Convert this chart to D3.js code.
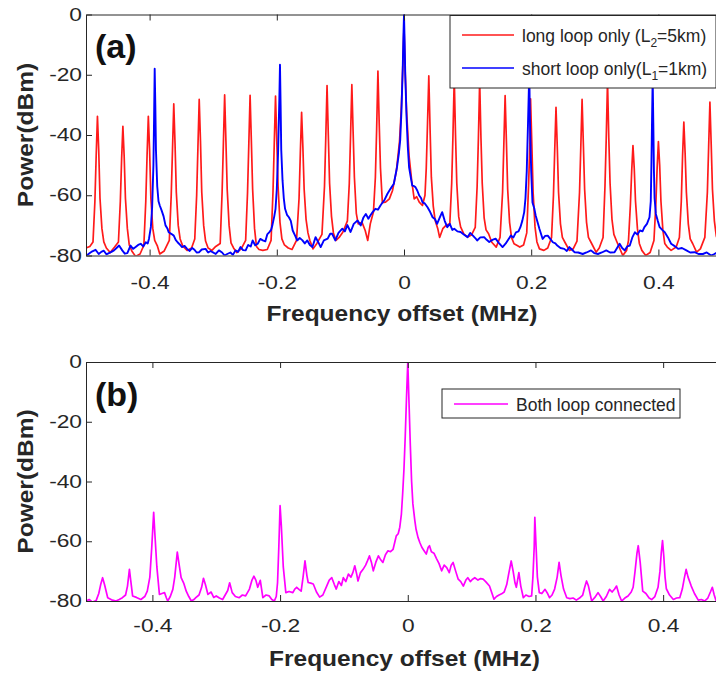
<!DOCTYPE html>
<html>
<head>
<meta charset="utf-8">
<script src="https://cdn.jsdelivr.net/npm/d3@7"></script>
<style>
  body { margin: 0; background: #fff; }
  svg text { font-family: "Liberation Sans", Arial, sans-serif; fill: #262626; }
</style>
</head>
<body>
<div id="chart"></div>
<script>
// tick values shared by both panels
var freqTicks = [-0.4, -0.2, 0, 0.2, 0.4];
var powerTicks = [0, -20, -40, -60, -80];

// (a) long loop only, L2 = 5km : [frequency offset MHz, power dBm]
var longLoop = [
  [-0.500, -77.5], [-0.494, -77.0], [-0.489, -75.5],
  [-0.486, -62], [-0.484, -47], [-0.482, -33.8], [-0.480, -45], [-0.478, -61], [-0.475, -71], [-0.472, -75.5],
  [-0.468, -77.5], [-0.462, -79.0], [-0.455, -77.2], [-0.449, -75.5],
  [-0.446, -62], [-0.444, -48], [-0.442, -37.1], [-0.440, -47], [-0.438, -61], [-0.435, -71], [-0.432, -76.5],
  [-0.428, -78.5], [-0.422, -80.3], [-0.415, -79.5], [-0.409, -76.6],
  [-0.406, -62], [-0.404, -47], [-0.402, -33.8], [-0.400, -45], [-0.398, -61], [-0.395, -71], [-0.392, -75.0],
  [-0.388, -76.7], [-0.384, -79.5], [-0.377, -78.5], [-0.369, -75.0],
  [-0.366, -60], [-0.364, -45], [-0.362, -29.7], [-0.360, -43], [-0.358, -59], [-0.355, -70], [-0.352, -74.5],
  [-0.348, -76.8], [-0.341, -78.3], [-0.334, -77.5], [-0.329, -74.5],
  [-0.326, -60], [-0.324, -44], [-0.322, -28.2], [-0.320, -42], [-0.318, -59], [-0.315, -70], [-0.312, -75.2],
  [-0.308, -77.5], [-0.302, -78.3], [-0.296, -77.0], [-0.289, -76.0],
  [-0.286, -59], [-0.284, -43], [-0.282, -26.7], [-0.280, -42], [-0.278, -58], [-0.275, -70], [-0.272, -75.8],
  [-0.268, -77.5], [-0.263, -79.0], [-0.256, -77.8], [-0.249, -75.0],
  [-0.246, -59], [-0.244, -43], [-0.242, -26.8], [-0.240, -42], [-0.238, -58], [-0.235, -71], [-0.232, -77.0],
  [-0.228, -78.0], [-0.222, -78.3], [-0.215, -78.0], [-0.209, -75.0],
  [-0.206, -59], [-0.204, -43], [-0.202, -27.1], [-0.200, -42], [-0.198, -57], [-0.195, -69], [-0.192, -74.5],
  [-0.188, -76.5], [-0.182, -77.5], [-0.176, -78.0], [-0.169, -75.0],
  [-0.165, -61], [-0.163, -46], [-0.161, -32.5], [-0.159, -44], [-0.157, -58], [-0.154, -68], [-0.151, -72.5],
  [-0.148, -75.0], [-0.143, -77.8], [-0.137, -76.0], [-0.129, -73.0],
  [-0.125, -57], [-0.123, -41], [-0.121, -23.6], [-0.119, -40], [-0.117, -56], [-0.114, -67], [-0.111, -72.5],
  [-0.107, -75.0], [-0.102, -74.0], [-0.096, -72.2], [-0.089, -68.5],
  [-0.086, -56], [-0.084, -40], [-0.082, -23.3], [-0.080, -39], [-0.078, -54], [-0.075, -66.0], [-0.072, -69.5],
  [-0.066, -69.0], [-0.061, -71.7], [-0.057, -75.0], [-0.053, -69.5], [-0.048, -65.5],
  [-0.045, -54], [-0.043, -38], [-0.041, -18.8], [-0.039, -36], [-0.037, -51], [-0.034, -62.5],
  [-0.029, -62.3], [-0.023, -61.2], [-0.018, -58.4], [-0.012, -52], [-0.007, -42],
  [-0.004, -30], [-0.002, -18], [0.000, -4], [0.002, -20], [0.004, -32], [0.008, -47], [0.012, -55],
  [0.016, -61.2], [0.020, -60.5], [0.024, -62.3], [0.029, -63.4], [0.033, -60],
  [0.035, -51], [0.037, -36], [0.039, -20.4], [0.041, -38], [0.043, -54], [0.046, -63.6],
  [0.049, -68.4], [0.053, -71], [0.056, -74.0], [0.061, -71.1], [0.066, -70.0], [0.072, -69.5],
  [0.075, -56], [0.077, -40], [0.079, -21], [0.081, -40], [0.083, -56], [0.086, -67.1], [0.089, -70.5],
  [0.094, -72.8], [0.100, -73.9], [0.106, -73.2], [0.112, -70.7],
  [0.115, -57], [0.117, -41], [0.119, -22], [0.121, -41], [0.123, -56], [0.126, -67.5], [0.129, -71.5],
  [0.133, -72.8], [0.138, -75.6], [0.145, -77.2], [0.151, -74.0],
  [0.155, -59], [0.157, -43], [0.159, -26.9], [0.161, -42], [0.163, -58], [0.166, -69.0], [0.169, -74.0],
  [0.173, -76.1], [0.178, -76.7], [0.182, -77.2], [0.188, -76.5], [0.193, -72.5],
  [0.196, -56], [0.198, -42], [0.199, -28], [0.201, -43], [0.203, -59], [0.206, -70.5], [0.209, -75.5],
  [0.213, -77.8], [0.220, -78.3], [0.226, -77.5], [0.232, -74.0],
  [0.235, -60], [0.237, -45], [0.239, -30.8], [0.241, -44], [0.243, -59], [0.246, -69.5], [0.249, -74.0],
  [0.253, -75.6], [0.260, -78.3], [0.266, -77.8], [0.272, -75.2],
  [0.276, -59], [0.278, -44], [0.280, -28.2], [0.282, -43], [0.284, -58], [0.287, -69.0], [0.290, -74.0],
  [0.294, -75.6], [0.302, -78.9], [0.307, -77.5], [0.313, -74.0],
  [0.316, -57], [0.318, -41], [0.320, -22], [0.322, -41], [0.324, -56], [0.327, -68.0], [0.330, -73.0],
  [0.335, -75.6], [0.344, -80.0], [0.350, -78.3], [0.353, -75.0],
  [0.356, -63], [0.358, -52], [0.360, -43.5], [0.362, -51], [0.364, -62], [0.367, -71.0], [0.370, -76.0],
  [0.374, -78.3], [0.380, -80.0], [0.387, -79.0], [0.393, -75.0],
  [0.396, -63], [0.398, -51], [0.400, -42.2], [0.402, -50], [0.404, -62], [0.407, -71.5], [0.410, -76.0],
  [0.414, -77.2], [0.420, -78.3], [0.428, -77.2], [0.433, -74.0],
  [0.436, -62], [0.438, -47], [0.440, -35.7], [0.442, -46], [0.444, -59], [0.447, -69.5], [0.450, -74.5],
  [0.454, -76.1], [0.460, -78.9], [0.466, -77.8], [0.473, -74.0],
  [0.477, -59], [0.479, -44], [0.481, -29.1], [0.483, -43], [0.485, -58], [0.488, -68.5], [0.491, -73.5],
  [0.495, -76.0], [0.500, -77.5]
];

// (a) short loop only, L1 = 1km
var shortLoop = [
  [-0.500, -80.0], [-0.496, -79.5], [-0.494, -79.2], [-0.490, -78.6], [-0.485, -78.1], [-0.480, -79.5],
  [-0.476, -78.8], [-0.472, -78.4], [-0.468, -79.6], [-0.464, -79.2], [-0.460, -78.8], [-0.456, -78.3],
  [-0.452, -77.5], [-0.448, -76.7], [-0.443, -78.3], [-0.439, -79.4], [-0.435, -79.2], [-0.430, -76.7],
  [-0.426, -77.8], [-0.422, -77.2], [-0.418, -76.5], [-0.414, -76.1], [-0.410, -77.0], [-0.406, -75.6],
  [-0.403, -76.0], [-0.401, -74.5], [-0.398, -70.5], [-0.396, -64.0], [-0.394, -50.0], [-0.393, -35.0],
  [-0.392, -18.0], [-0.391, -30.0], [-0.390, -45.0], [-0.388, -57.0], [-0.386, -62.0], [-0.384, -63.4],
  [-0.381, -65.1], [-0.378, -67.0], [-0.375, -70.0], [-0.372, -71.0], [-0.370, -72.3], [-0.366, -72.8],
  [-0.362, -73.4], [-0.359, -74.8], [-0.356, -75.6], [-0.352, -76.5], [-0.349, -77.2], [-0.345, -76.8],
  [-0.341, -77.8], [-0.337, -78.5], [-0.333, -77.5], [-0.330, -78.0], [-0.326, -79.0], [-0.322, -78.9],
  [-0.318, -78.0], [-0.312, -77.8], [-0.308, -79.0], [-0.304, -78.5], [-0.301, -78.9], [-0.296, -79.5],
  [-0.291, -78.3], [-0.286, -79.0], [-0.282, -80.0], [-0.278, -79.5], [-0.273, -79.0], [-0.269, -79.8],
  [-0.265, -78.3], [-0.261, -78.8], [-0.257, -77.2], [-0.253, -78.2], [-0.249, -78.3], [-0.245, -76.5],
  [-0.241, -77.0], [-0.238, -75.0], [-0.234, -76.6], [-0.230, -76.1], [-0.226, -74.5], [-0.222, -75.0],
  [-0.218, -75.3], [-0.215, -73.0], [-0.212, -72.3], [-0.209, -71.5], [-0.207, -70.0], [-0.204, -67.0],
  [-0.202, -64.5], [-0.200, -58.0], [-0.198, -46.0], [-0.196, -28.0], [-0.195, -16.7], [-0.194, -30.0],
  [-0.193, -45.0], [-0.191, -55.0], [-0.189, -61.0], [-0.187, -64.5], [-0.184, -66.5], [-0.181, -67.3],
  [-0.178, -68.5], [-0.175, -71.7], [-0.171, -73.5], [-0.168, -75.0], [-0.164, -74.2], [-0.160, -74.9],
  [-0.156, -76.0], [-0.152, -75.0], [-0.148, -76.5], [-0.144, -77.2], [-0.139, -73.9], [-0.135, -75.5],
  [-0.131, -77.2], [-0.126, -75.0], [-0.120, -74.4], [-0.116, -72.8], [-0.113, -72.8], [-0.108, -75.0],
  [-0.103, -72.5], [-0.097, -71.1], [-0.093, -72.0], [-0.089, -69.9], [-0.084, -72.2], [-0.079, -69.5],
  [-0.073, -68.4], [-0.068, -70.0], [-0.064, -67.5], [-0.060, -66.2], [-0.056, -67.8], [-0.053, -66.7],
  [-0.049, -65.5], [-0.045, -64.5], [-0.041, -64.8], [-0.037, -63.4], [-0.034, -62.5], [-0.031, -61.7],
  [-0.026, -59.5], [-0.021, -57.8], [-0.016, -56.2], [-0.011, -50.7], [-0.008, -46.0], [-0.006, -41.8],
  [-0.004, -32.0], [-0.002, -18.0], [-0.001, -8.0], [0.000, 0.0], [0.001, -9.0], [0.002, -20.0],
  [0.004, -34.0], [0.006, -44.0], [0.008, -50.7], [0.011, -54.5], [0.013, -56.8], [0.016, -57.0],
  [0.018, -57.3], [0.021, -58.5], [0.024, -60.1], [0.027, -61.0], [0.029, -62.3], [0.033, -62.8],
  [0.037, -64.0], [0.041, -65.5], [0.045, -67.3], [0.049, -68.0], [0.052, -69.5], [0.056, -67.5],
  [0.060, -65.6], [0.064, -68.5], [0.068, -70.6], [0.072, -69.5], [0.076, -71.5], [0.079, -71.1],
  [0.084, -72.0], [0.089, -72.2], [0.094, -73.0], [0.100, -73.9], [0.104, -72.5], [0.108, -73.3],
  [0.112, -74.2], [0.115, -75.0], [0.120, -74.0], [0.126, -73.9], [0.130, -74.8], [0.134, -75.5],
  [0.139, -74.8], [0.144, -74.4], [0.149, -75.8], [0.155, -77.2], [0.160, -76.0], [0.163, -75.0],
  [0.168, -73.4], [0.172, -74.0], [0.176, -72.3], [0.180, -72.0], [0.183, -70.6], [0.186, -68.5],
  [0.189, -65.6], [0.191, -61.0], [0.193, -52.0], [0.195, -36.0], [0.197, -19.0], [0.198, -35.0],
  [0.200, -52.0], [0.202, -62.4], [0.205, -64.5], [0.207, -66.7], [0.210, -69.0], [0.213, -71.2],
  [0.218, -74.5], [0.222, -73.5], [0.226, -73.4], [0.230, -74.5], [0.234, -75.6], [0.238, -76.0],
  [0.241, -76.7], [0.246, -77.5], [0.252, -77.8], [0.256, -78.5], [0.260, -77.2], [0.264, -78.0],
  [0.268, -78.9], [0.274, -79.0], [0.281, -79.5], [0.287, -79.0], [0.294, -78.3], [0.299, -79.2],
  [0.305, -79.5], [0.311, -79.0], [0.318, -78.3], [0.324, -79.0], [0.331, -78.9], [0.335, -77.5],
  [0.339, -76.1], [0.343, -77.5], [0.347, -78.3], [0.351, -77.0], [0.355, -76.7], [0.359, -74.0],
  [0.363, -72.3], [0.367, -73.0], [0.371, -71.7], [0.375, -72.0], [0.378, -70.6], [0.382, -69.5],
  [0.386, -67.3], [0.388, -62.0], [0.389, -50.0], [0.390, -35.0], [0.391, -21.0], [0.392, -36.0],
  [0.393, -52.0], [0.394, -61.0], [0.396, -66.2], [0.399, -68.5], [0.402, -70.6], [0.406, -71.5],
  [0.410, -72.3], [0.415, -74.0], [0.420, -76.1], [0.425, -76.8], [0.431, -77.8], [0.437, -77.5],
  [0.444, -78.3], [0.450, -79.0], [0.457, -78.9], [0.463, -79.5], [0.470, -79.5], [0.476, -79.0],
  [0.483, -80.0], [0.488, -79.5], [0.492, -79.0], [0.500, -79.5]
];

// (b) both loops connected
var bothLoops = [
  [-0.504, -80.0], [-0.499, -79.5], [-0.494, -80.4], [-0.488, -79.8], [-0.484, -77.5], [-0.481, -74.5],
  [-0.478, -72.2], [-0.475, -74.5], [-0.470, -78.9], [-0.464, -79.6], [-0.457, -80.0], [-0.452, -79.5],
  [-0.447, -78.9], [-0.442, -78.0], [-0.439, -75.0], [-0.436, -69.4], [-0.434, -73.0], [-0.431, -78.3],
  [-0.425, -78.8], [-0.418, -79.5], [-0.412, -78.5], [-0.408, -76.7], [-0.404, -72.0], [-0.401, -62.0],
  [-0.398, -50.3], [-0.396, -58.0], [-0.393, -68.6], [-0.389, -77.8], [-0.385, -77.5], [-0.381, -77.2],
  [-0.378, -79.0], [-0.376, -80.0], [-0.372, -78.5], [-0.368, -76.1], [-0.365, -72.0], [-0.361, -63.6],
  [-0.358, -68.0], [-0.355, -72.2], [-0.351, -74.0], [-0.347, -76.7], [-0.343, -78.5], [-0.339, -80.0],
  [-0.335, -79.5], [-0.332, -78.9], [-0.327, -78.0], [-0.323, -75.5], [-0.320, -72.4], [-0.317, -74.5],
  [-0.313, -77.8], [-0.308, -77.0], [-0.304, -78.8], [-0.300, -78.3], [-0.295, -79.0], [-0.290, -79.5],
  [-0.286, -78.0], [-0.282, -76.5], [-0.279, -73.9], [-0.275, -77.2], [-0.270, -78.5], [-0.264, -78.9],
  [-0.259, -78.0], [-0.254, -78.3], [-0.248, -76.0], [-0.244, -73.0], [-0.241, -71.7], [-0.238, -73.0],
  [-0.235, -75.4], [-0.231, -73.1], [-0.227, -78.9], [-0.222, -78.0], [-0.217, -78.3], [-0.213, -79.5],
  [-0.209, -80.0], [-0.206, -78.5], [-0.204, -73.9], [-0.202, -62.0], [-0.200, -48.1], [-0.198, -55.0],
  [-0.195, -68.6], [-0.191, -77.2], [-0.186, -76.8], [-0.180, -77.2], [-0.177, -76.0], [-0.174, -75.4],
  [-0.170, -76.2], [-0.167, -76.7], [-0.164, -72.0], [-0.161, -66.6], [-0.158, -71.5], [-0.156, -73.8],
  [-0.152, -74.0], [-0.148, -74.3], [-0.143, -77.0], [-0.138, -78.7], [-0.133, -78.0], [-0.127, -75.0],
  [-0.123, -73.0], [-0.119, -72.2], [-0.115, -74.5], [-0.112, -76.0], [-0.108, -73.5], [-0.104, -74.8],
  [-0.101, -72.2], [-0.097, -73.5], [-0.093, -71.0], [-0.089, -72.0], [-0.086, -70.5], [-0.083, -68.2],
  [-0.080, -71.0], [-0.078, -73.3], [-0.074, -70.5], [-0.070, -69.4], [-0.066, -68.0], [-0.063, -66.5],
  [-0.060, -64.9], [-0.057, -67.0], [-0.054, -69.9], [-0.050, -67.0], [-0.046, -64.9], [-0.043, -66.0],
  [-0.039, -67.1], [-0.035, -64.5], [-0.031, -63.2], [-0.027, -63.5], [-0.023, -62.7], [-0.020, -60.0],
  [-0.018, -58.2], [-0.015, -57.5], [-0.0125, -55.3], [-0.010, -50.9], [-0.008, -44.0], [-0.006, -36.0],
  [-0.004, -25.0], [-0.002, -12.0], [0.000, 0.0], [0.002, -14.0], [0.004, -28.0], [0.006, -40.0],
  [0.008, -47.5], [0.011, -53.0], [0.013, -56.0], [0.016, -58.7], [0.019, -60.5], [0.022, -62.0],
  [0.025, -63.0], [0.029, -64.3], [0.032, -62.0], [0.034, -61.5], [0.037, -63.5], [0.041, -64.0],
  [0.045, -65.8], [0.049, -67.5], [0.053, -69.9], [0.057, -68.0], [0.061, -68.8], [0.065, -70.5],
  [0.068, -68.0], [0.071, -67.1], [0.075, -70.0], [0.079, -72.7], [0.083, -73.5], [0.087, -75.0],
  [0.091, -73.0], [0.094, -72.2], [0.098, -73.5], [0.101, -72.8], [0.105, -72.2], [0.110, -73.0],
  [0.114, -72.5], [0.118, -72.7], [0.122, -73.5], [0.128, -75.0], [0.132, -77.5], [0.135, -79.4],
  [0.139, -78.5], [0.143, -78.0], [0.147, -77.6], [0.151, -77.0], [0.155, -74.5], [0.158, -71.0],
  [0.162, -66.6], [0.165, -70.0], [0.168, -74.0], [0.170, -75.4], [0.172, -73.0], [0.174, -70.5],
  [0.177, -75.0], [0.181, -78.9], [0.185, -78.0], [0.190, -78.5], [0.194, -78.3], [0.196, -72.0],
  [0.198, -62.0], [0.199, -52.0], [0.201, -62.0], [0.203, -72.0], [0.206, -77.2], [0.210, -77.5],
  [0.215, -76.1], [0.219, -77.5], [0.222, -78.9], [0.226, -78.0], [0.230, -76.0], [0.234, -72.0],
  [0.237, -67.1], [0.240, -71.5], [0.244, -76.0], [0.249, -78.9], [0.254, -79.2], [0.259, -79.0],
  [0.264, -79.7], [0.269, -79.0], [0.274, -78.0], [0.277, -75.5], [0.280, -73.3], [0.283, -75.0],
  [0.288, -80.0], [0.293, -78.8], [0.298, -77.2], [0.302, -78.5], [0.306, -80.0], [0.311, -78.5],
  [0.316, -76.1], [0.320, -77.0], [0.324, -76.0], [0.327, -75.0], [0.331, -78.0], [0.335, -80.0],
  [0.340, -79.0], [0.345, -78.3], [0.350, -77.0], [0.353, -75.4], [0.356, -70.0], [0.359, -64.0],
  [0.361, -61.5], [0.364, -67.0], [0.368, -76.7], [0.373, -77.5], [0.378, -79.0], [0.382, -79.5],
  [0.387, -78.5], [0.392, -75.4], [0.395, -70.0], [0.397, -64.0], [0.399, -59.8], [0.401, -65.0],
  [0.403, -72.0], [0.405, -75.9], [0.410, -78.0], [0.416, -79.5], [0.421, -79.0], [0.426, -78.9],
  [0.430, -76.0], [0.433, -72.5], [0.436, -69.4], [0.439, -72.0], [0.444, -75.0], [0.449, -77.5],
  [0.455, -79.7], [0.460, -79.5], [0.465, -80.0], [0.470, -79.0], [0.474, -77.0], [0.477, -75.4],
  [0.480, -78.0], [0.483, -80.0], [0.488, -79.0], [0.494, -79.5], [0.500, -79.0]
];

var axisColor = "#262626";
var width = 716;
var height = 673;

var svg = d3
  .select("#chart")
  .append("svg")
  .attr("width", width)
  .attr("height", height);

// widen text to the proportions of the original rendering
function stretch(sel, k) {
  sel.each(function () {
    var w = this.getComputedTextLength();
    d3.select(this)
      .attr("textLength", w * k)
      .attr("lengthAdjust", "spacingAndGlyphs");
  });
}

function drawPanel(opt) {
  var x = d3.scaleLinear().domain(opt.xDomain).range([opt.left, opt.right]);
  var y = d3.scaleLinear().domain([-80, 0]).range([opt.bottom, opt.top]);

  var g = svg.append("g");

  g.append("clipPath")
    .attr("id", opt.id + "-clip")
    .append("rect")
    .attr("x", opt.left)
    .attr("y", opt.top)
    .attr("width", opt.right - opt.left)
    .attr("height", opt.bottom - opt.top);

  var line = d3
    .line()
    .x((d) => x(d[0]))
    .y((d) => y(d[1]));

  var plot = g.append("g").attr("clip-path", "url(#" + opt.id + "-clip)");
  opt.series.forEach(function (s) {
    plot
      .append("path")
      .datum(s.data)
      .attr("d", line)
      .attr("fill", "none")
      .attr("stroke", s.color)
      .attr("stroke-width", s.width)
      .attr("stroke-linejoin", "round");
  });

  var fmt = (d) => String(d);

  // box axes with inward ticks (matlab style)
  var xb = g
    .append("g")
    .attr("transform", "translate(0," + opt.bottom + ")")
    .call(d3.axisBottom(x).tickValues(freqTicks).tickFormat(fmt).tickSize(-6).tickSizeOuter(0).tickPadding(opt.xPad));
  var xt = g
    .append("g")
    .attr("transform", "translate(0," + opt.top + ")")
    .call(d3.axisTop(x).tickValues(freqTicks).tickFormat("").tickSize(-6).tickSizeOuter(0));
  var yl = g
    .append("g")
    .attr("transform", "translate(" + opt.left + ",0)")
    .call(d3.axisLeft(y).tickValues(powerTicks).tickFormat(fmt).tickSize(-6).tickSizeOuter(0).tickPadding(4));
  var yr = g
    .append("g")
    .attr("transform", "translate(" + opt.right + ",0)")
    .call(d3.axisRight(y).tickValues(powerTicks).tickFormat("").tickSize(-6).tickSizeOuter(0));

  [xb, xt, yl, yr].forEach(function (a) {
    a.selectAll("path, line").attr("stroke", axisColor).attr("stroke-width", 1);
    a.selectAll("text")
      .attr("fill", "#333")
      .style("font-size", "17.5px")
      .attr("font-family", null);
  });
  stretch(xb.selectAll("text"), 1.3);
  stretch(yl.selectAll("text"), 1.3);

  // axis titles
  var xTitle = g
    .append("text")
    .attr("x", (opt.left + opt.right) / 2 - 2)
    .attr("y", opt.bottom + 65)
    .attr("text-anchor", "middle")
    .style("font-size", "21.5px")
    .style("font-weight", "bold")
    .text("Frequency offset (MHz)");
  stretch(xTitle, 1.14);

  var yTitle = g
    .append("text")
    .attr("transform", "translate(33," + (opt.top + opt.bottom) / 2 + ") rotate(-90)")
    .attr("text-anchor", "middle")
    .style("font-size", "21.5px")
    .style("font-weight", "bold")
    .text("Power(dBm)");
  stretch(yTitle, 1.14);

  g.append("text")
    .attr("x", opt.left + 9)
    .attr("y", opt.top + opt.labelDy)
    .style("font-size", "34px")
    .style("font-weight", "bold")
    .style("fill", "#111")
    .text(opt.label);

  // legend
  var lg = g.append("g");
  lg.append("rect")
    .attr("x", opt.legend.x)
    .attr("y", opt.legend.y)
    .attr("width", opt.legend.w)
    .attr("height", opt.legend.h)
    .attr("fill", "#fff")
    .attr("stroke", axisColor)
    .attr("stroke-width", 1);
  opt.series.forEach(function (s, i) {
    var cy = opt.legend.y + opt.legend.row0 + i * opt.legend.rowStep;
    lg.append("line")
      .attr("x1", opt.legend.x + 12)
      .attr("x2", opt.legend.x + 12 + opt.legend.lineLen)
      .attr("y1", cy)
      .attr("y2", cy)
      .attr("stroke", s.color)
      .attr("stroke-width", 1.5);
    var t = lg
      .append("text")
      .attr("x", opt.legend.x + 12 + opt.legend.lineLen + 8)
      .attr("y", cy + 6.5)
      .style("font-size", "17.5px");
    s.label.forEach(function (part) {
      if (part.sub) {
        t.append("tspan").attr("dy", 5).style("font-size", "12px").text(part.sub);
        t.append("tspan").attr("dy", -5).text(part.text);
      } else {
        t.append("tspan").text(part.text);
      }
    });
  });
}

drawPanel({
  id: "pa",
  xDomain: [-0.5, 0.5],
  left: 86,
  right: 722,
  top: 14.5,
  bottom: 255.5,
  xPad: 21,
  label: "(a)",
  labelDy: 43,
  series: [
    { data: longLoop, color: "#ff1a1a", width: 1.7,
      label: [{ text: "long loop only (L" }, { sub: "2", text: "=5km)" }] },
    { data: shortLoop, color: "#0000ff", width: 1.9,
      label: [{ text: "short loop only(L" }, { sub: "1", text: "=1km)" }] }
  ],
  legend: { x: 450, y: 15.5, w: 266, h: 72.5, lineLen: 52, row0: 19.5, rowStep: 33 }
});

drawPanel({
  id: "pb",
  xDomain: [-0.504, 0.5],
  left: 86,
  right: 727,
  top: 362,
  bottom: 601,
  xPad: 19,
  label: "(b)",
  labelDy: 44,
  series: [
    { data: bothLoops, color: "#ff00ff", width: 1.7,
      label: [{ text: "Both loop connected" }] }
  ],
  legend: { x: 442, y: 389, w: 238, h: 29, lineLen: 54, row0: 15, rowStep: 0 }
});
</script>
</body>
</html>
